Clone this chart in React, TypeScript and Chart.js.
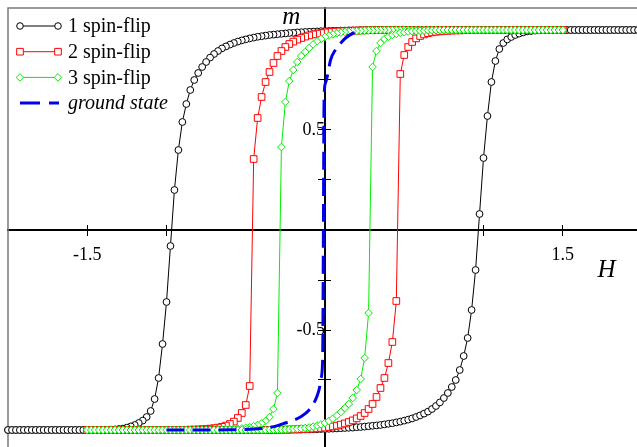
import React, { useEffect, useRef } from "react";
import { Chart, registerables } from "chart.js";

Chart.register(...registerables);

// Field sweep grid: H = start + k * step
const H_STEP = 0.025;
const ONE_FLIP_START = -2;
const MULTI_FLIP_START = -1.5;

// 1 spin-flip: magnetisation on the descending and ascending branches (H increasing)
const oneFlipDown = [
  -1, -1, -1, -1, -1, -1, -1, -1, -1, -1,
  -1, -1, -1, -1, -1, -1, -1, -1, -1, -1,
  -1, -1, -1, -1, -0.999, -0.999, -0.998, -0.997, -0.995, -0.993,
  -0.988, -0.982, -0.975, -0.965, -0.953, -0.935, -0.905, -0.845, -0.74, -0.57,
  -0.36, -0.08, 0.2, 0.4, 0.54, 0.63, 0.7, 0.75, 0.785, 0.815,
  0.84, 0.862, 0.88, 0.895, 0.908, 0.918, 0.927, 0.935, 0.942, 0.948,
  0.953, 0.958, 0.962, 0.966, 0.969, 0.972, 0.975, 0.977, 0.979, 0.981,
  0.983, 0.985, 0.986, 0.988, 0.989, 0.99, 0.991, 0.992, 0.993, 0.994,
  0.995, 0.995, 0.996, 0.996, 0.997, 0.997, 0.998, 0.998, 0.998, 0.999,
  0.999, 0.999, 0.999, 1, 1, 1, 1, 1, 1, 1,
  1, 1, 1, 1, 1, 1, 1, 1, 1, 1,
  1, 1, 1, 1, 1, 1, 1, 1, 1, 1,
  1, 1, 1, 1, 1, 1, 1, 1, 1, 1,
  1, 1, 1, 1, 1, 1, 1, 1, 1, 1,
  1, 1, 1, 1, 1, 1, 1, 1, 1, 1,
  1, 1, 1, 1, 1, 1, 1, 1, 1, 1,
  1,
];
const oneFlipUp = [
  -1, -1, -1, -1, -1, -1, -1, -1, -1, -1,
  -1, -1, -1, -1, -1, -1, -1, -1, -1, -1,
  -1, -1, -1, -1, -1, -1, -1, -1, -1, -1,
  -1, -1, -1, -1, -1, -1, -1, -1, -1, -1,
  -1, -1, -1, -1, -1, -1, -1, -1, -1, -1,
  -1, -1, -1, -1, -1, -1, -1, -1, -1, -1,
  -1, -1, -1, -1, -1, -1, -1, -1, -0.999, -0.999,
  -0.999, -0.999, -0.998, -0.998, -0.998, -0.997, -0.997, -0.996, -0.996, -0.995,
  -0.995, -0.994, -0.993, -0.992, -0.991, -0.99, -0.989, -0.988, -0.986, -0.985,
  -0.983, -0.981, -0.979, -0.977, -0.975, -0.972, -0.969, -0.966, -0.962, -0.958,
  -0.953, -0.948, -0.942, -0.935, -0.927, -0.918, -0.908, -0.895, -0.88, -0.862,
  -0.84, -0.815, -0.785, -0.75, -0.7, -0.63, -0.54, -0.4, -0.2, 0.08,
  0.36, 0.57, 0.74, 0.845, 0.905, 0.935, 0.953, 0.965, 0.975, 0.982,
  0.988, 0.993, 0.995, 0.997, 0.998, 0.999, 0.999, 1, 1, 1,
  1, 1, 1, 1, 1, 1, 1, 1, 1, 1,
  1, 1, 1, 1, 1, 1, 1, 1, 1, 1,
  1,
];

// 2 spin-flip
const twoFlipDown = [
  -1, -1, -1, -1, -1, -1, -1, -1, -1, -1,
  -1, -1, -1, -1, -1, -1, -1, -1, -1, -1,
  -1, -1, -1, -1, -0.999, -0.999, -0.998, -0.998, -0.997, -0.996,
  -0.995, -0.993, -0.991, -0.988, -0.984, -0.978, -0.97, -0.958, -0.94, -0.915,
  -0.875, -0.78, 0.355, 0.56, 0.665, 0.74, 0.79, 0.835, 0.87, 0.895,
  0.915, 0.93, 0.942, 0.952, 0.96, 0.967, 0.973, 0.978, 0.982, 0.985,
  0.988, 0.99, 0.992, 0.993, 0.994, 0.995, 0.996, 0.997, 0.997, 0.998,
  0.998, 0.999, 0.999, 1, 1, 1, 1, 1, 1, 1,
  1, 1, 1, 1, 1, 1, 1, 1, 1, 1,
  1, 1, 1, 1, 1, 1, 1, 1, 1, 1,
  1, 1, 1, 1, 1, 1, 1, 1, 1, 1,
  1, 1, 1, 1, 1, 1, 1, 1, 1, 1,
  1,
];
const twoFlipUp = [
  -1, -1, -1, -1, -1, -1, -1, -1, -1, -1,
  -1, -1, -1, -1, -1, -1, -1, -1, -1, -1,
  -1, -1, -1, -1, -1, -1, -1, -1, -1, -1,
  -1, -1, -1, -1, -1, -1, -1, -1, -1, -1,
  -1, -1, -1, -1, -1, -1, -1, -1, -0.999, -0.999,
  -0.998, -0.998, -0.997, -0.997, -0.996, -0.995, -0.994, -0.993, -0.992, -0.99,
  -0.988, -0.985, -0.982, -0.978, -0.973, -0.967, -0.96, -0.952, -0.942, -0.93,
  -0.915, -0.895, -0.87, -0.835, -0.79, -0.74, -0.665, -0.56, -0.355, 0.78,
  0.875, 0.915, 0.94, 0.958, 0.97, 0.978, 0.984, 0.988, 0.991, 0.993,
  0.995, 0.996, 0.997, 0.998, 0.998, 0.999, 0.999, 1, 1, 1,
  1, 1, 1, 1, 1, 1, 1, 1, 1, 1,
  1, 1, 1, 1, 1, 1, 1, 1, 1, 1,
  1,
];

// 3 spin-flip
const threeFlipDown = [
  -1, -1, -1, -1, -1, -1, -1, -1, -1, -1,
  -1, -1, -1, -1, -1, -1, -1, -1, -1, -1,
  -1, -1, -1, -1, -1, -1, -1, -1, -1, -1,
  -1, -0.999, -0.999, -0.998, -0.998, -0.997, -0.996, -0.995, -0.994, -0.992,
  -0.989, -0.986, -0.981, -0.975, -0.967, -0.955, -0.935, -0.895, -0.815, 0.415,
  0.64, 0.745, 0.8, 0.84, 0.87, 0.89, 0.91, 0.928, 0.943, 0.955,
  0.965, 0.972, 0.978, 0.983, 0.987, 0.99, 0.992, 0.994, 0.995, 0.996,
  0.997, 0.998, 0.998, 0.999, 0.999, 1, 1, 1, 1, 1,
  1, 1, 1, 1, 1, 1, 1, 1, 1, 1,
  1, 1, 1, 1, 1, 1, 1, 1, 1, 1,
  1, 1, 1, 1, 1, 1, 1, 1, 1, 1,
  1, 1, 1, 1, 1, 1, 1, 1, 1, 1,
  1,
];
const threeFlipUp = [
  -1, -1, -1, -1, -1, -1, -1, -1, -1, -1,
  -1, -1, -1, -1, -1, -1, -1, -1, -1, -1,
  -1, -1, -1, -1, -1, -1, -1, -1, -1, -1,
  -1, -1, -1, -1, -1, -1, -1, -1, -1, -1,
  -1, -1, -1, -1, -1, -1, -0.999, -0.999, -0.998, -0.998,
  -0.997, -0.996, -0.995, -0.994, -0.992, -0.99, -0.987, -0.983, -0.978, -0.972,
  -0.965, -0.955, -0.943, -0.928, -0.91, -0.89, -0.87, -0.84, -0.8, -0.745,
  -0.64, -0.415, 0.815, 0.895, 0.935, 0.955, 0.967, 0.975, 0.981, 0.986,
  0.989, 0.992, 0.994, 0.995, 0.996, 0.997, 0.998, 0.998, 0.999, 0.999,
  1, 1, 1, 1, 1, 1, 1, 1, 1, 1,
  1, 1, 1, 1, 1, 1, 1, 1, 1, 1,
  1, 1, 1, 1, 1, 1, 1, 1, 1, 1,
  1,
];

// Ground state curve
const groundH = [
  -1, -0.8, -0.6, -0.5, -0.4, -0.35, -0.3, -0.25, -0.2, -0.15, -0.1, -0.07, -0.05,
  -0.035, -0.025, -0.015, -0.01, -0.006, 0.003, 0.015, 0.035, 0.065, 0.1, 0.13, 0.18, 0.22,
];
const groundM = [
  -1, -1, -0.999, -0.997, -0.992, -0.987, -0.978, -0.965, -0.952, -0.933, -0.9, -0.865, -0.83,
  -0.79, -0.74, -0.65, 0, 0.65, 0.735, 0.77, 0.85, 0.9, 0.935, 0.96, 0.985, 0.99,
];

const seriesNames = ["1 spin-flip", "2 spin-flip", "3 spin-flip", "ground state"];
const xTickValues = [-1.5, -1, 1, 1.5];
const xLabelValues = [-1.5, 1.5];
const yTickValues = [-0.75, -0.5, -0.25, 0.25, 0.5, 0.75];
const yLabelValues = [-0.5, 0.5];

const SERIF = '"Liberation Serif", "Times New Roman", serif';
const BLACK = "#000000";
const RED = "#ff0000";
const GREEN = "#00ee00";
const BLUE = "#0000ee";

type Pt = { x: number; y: number };

// Descending branch (high field to low field), then ascending branch back up.
function loopPoints(start: number, down: number[], up: number[]): Pt[] {
  const pts: Pt[] = [];
  for (let k = down.length - 1; k >= 0; k--) {
    pts.push({ x: +(start + k * H_STEP).toFixed(4), y: down[k] });
  }
  for (let k = 0; k < up.length; k++) {
    pts.push({ x: +(start + k * H_STEP).toFixed(4), y: up[k] });
  }
  return pts;
}

function drawMarker(ctx: CanvasRenderingContext2D, style: string, x: number, y: number, r: number, color: string) {
  ctx.save();
  ctx.lineWidth = 1;
  ctx.strokeStyle = color;
  ctx.fillStyle = "#ffffff";
  ctx.beginPath();
  if (style === "circle") {
    ctx.arc(x, y, r, 0, Math.PI * 2);
  } else if (style === "rect") {
    const s = r * Math.SQRT1_2;
    ctx.rect(x - s, y - s, 2 * s, 2 * s);
  } else {
    ctx.moveTo(x, y - r);
    ctx.lineTo(x + r, y);
    ctx.lineTo(x, y + r);
    ctx.lineTo(x - r, y);
    ctx.closePath();
  }
  ctx.fill();
  ctx.stroke();
  ctx.restore();
}

const legendStyles = [
  { color: BLACK, marker: "circle", radius: 3.3 },
  { color: RED, marker: "rect", radius: 4.7 },
  { color: GREEN, marker: "rectRot", radius: 3.8 },
  { color: BLUE, marker: "", radius: 0 },
];

const framePlugin = {
  id: "frame",
  beforeDatasetsDraw(chart: any) {
    const { ctx, chartArea } = chart;
    ctx.save();
    ctx.strokeStyle = "#7a7a7a";
    ctx.lineWidth = 1.5;
    ctx.strokeRect(chartArea.left, chartArea.top, chartArea.right - chartArea.left, chartArea.bottom - chartArea.top);
    ctx.restore();
  },
};

const annotationPlugin = {
  id: "annotations",
  afterDraw(chart: any) {
    const { ctx, chartArea } = chart;
    const xs = chart.scales.x;
    const ys = chart.scales.y;
    ctx.save();
    // axis names
    ctx.fillStyle = BLACK;
    ctx.font = `italic 25px ${SERIF}`;
    ctx.textAlign = "left";
    ctx.textBaseline = "alphabetic";
    ctx.fillText("H", xs.getPixelForValue(1.72), ys.getPixelForValue(0) + 47);
    ctx.fillText("m", xs.getPixelForValue(-0.27), chartArea.top + 16);

    // legend
    const rowTop = 26;
    const rowGap = 25.7;
    const x0 = 20;
    const x1 = 58;
    seriesNames.forEach((name, i) => {
      const y = rowTop + i * rowGap;
      const st = legendStyles[i];
      ctx.save();
      ctx.strokeStyle = st.color;
      if (st.marker) {
        ctx.lineWidth = 1;
        ctx.beginPath();
        ctx.moveTo(x0, y);
        ctx.lineTo(x1, y);
        ctx.stroke();
        drawMarker(ctx, st.marker, x0, y, st.radius, st.color);
        drawMarker(ctx, st.marker, x1, y, st.radius, st.color);
      } else {
        ctx.lineWidth = 3;
        ctx.setLineDash([20, 9]);
        ctx.beginPath();
        ctx.moveTo(x0, y);
        ctx.lineTo(x1 + 1, y);
        ctx.stroke();
      }
      ctx.restore();
      ctx.fillStyle = BLACK;
      ctx.font = `${i === 3 ? "italic " : ""}20px ${SERIF}`;
      ctx.textAlign = "left";
      ctx.textBaseline = "middle";
      ctx.fillText(name, 68, y + 1);
    });
    ctx.restore();
  },
};

function axisOptions(axis: "x" | "y", tickLength: number, withLabels: boolean) {
  const isX = axis === "x";
  const ticksList = isX ? xTickValues : yTickValues;
  const labelList = isX ? xLabelValues : yLabelValues;
  return {
    type: "linear" as const,
    axis,
    min: isX ? -2 : -1.1,
    max: isX ? 2 : 1.11,
    position: isX ? { y: 0 } : { x: 0 },
    afterBuildTicks: (scale: any) => {
      scale.ticks = ticksList.map((v) => ({ value: v }));
    },
    // the axes cross inside the plot, so they claim no outer margin
    afterFit: (scale: any) => {
      scale.paddingTop = 0;
      scale.paddingBottom = 0;
      scale.paddingLeft = 0;
      scale.paddingRight = 0;
    },
    border: { display: withLabels, color: BLACK, width: 2 },
    grid: {
      display: true,
      drawOnChartArea: false,
      drawTicks: true,
      tickLength,
      tickColor: BLACK,
      tickWidth: 1,
    },
    ticks: {
      display: withLabels,
      autoSkip: false,
      maxRotation: 0,
      color: BLACK,
      padding: isX ? 9 : 5,
      font: { family: SERIF, size: 18 },
      callback: (v: any) => (labelList.includes(Number(v)) ? String(v) : ""),
    },
  };
}

export default function App() {
  const canvasRef = useRef<HTMLCanvasElement>(null);

  useEffect(() => {
    if (!canvasRef.current) return;
    const chart = new Chart(canvasRef.current, {
      type: "line",
      data: {
        datasets: [
          {
            label: seriesNames[3],
            data: groundH.map((h, i) => ({ x: h, y: groundM[i] })),
            borderColor: BLUE,
            borderWidth: 3,
            borderDash: [18, 8],
            pointRadius: 0,
            cubicInterpolationMode: "monotone",
            fill: false,
            order: 1,
          },
          {
            label: seriesNames[2],
            data: loopPoints(MULTI_FLIP_START, threeFlipDown, threeFlipUp),
            borderColor: GREEN,
            borderWidth: 1,
            pointStyle: "rectRot",
            pointRadius: 3.8,
            pointBorderWidth: 1,
            pointBorderColor: GREEN,
            pointBackgroundColor: "#ffffff",
            tension: 0,
            fill: false,
            order: 2,
          },
          {
            label: seriesNames[1],
            data: loopPoints(MULTI_FLIP_START, twoFlipDown, twoFlipUp),
            borderColor: RED,
            borderWidth: 1,
            pointStyle: "rect",
            pointRadius: 4.7,
            pointBorderWidth: 1,
            pointBorderColor: RED,
            pointBackgroundColor: "#ffffff",
            tension: 0,
            fill: false,
            order: 3,
          },
          {
            label: seriesNames[0],
            data: loopPoints(ONE_FLIP_START, oneFlipDown, oneFlipUp),
            borderColor: BLACK,
            borderWidth: 1,
            pointStyle: "circle",
            pointRadius: 3.4,
            pointBorderWidth: 1,
            pointBorderColor: BLACK,
            pointBackgroundColor: "#ffffff",
            tension: 0,
            fill: false,
            order: 4,
          },
        ] as any,
      },
      options: {
        animation: false,
        responsive: false,
        devicePixelRatio: 1,
        parsing: false,
        clip: 8,
        layout: { padding: { left: 8, top: 8, right: 18, bottom: 10 } },
        plugins: { legend: { display: false }, tooltip: { enabled: false } },
        scales: {
          x: axisOptions("x", 5, true),
          x2: axisOptions("x", -5, false),
          y: axisOptions("y", 6, true),
          y2: axisOptions("y", -6, false),
        } as any,
      } as any,
      plugins: [framePlugin, annotationPlugin],
    });
    return () => chart.destroy();
  }, []);

  return (
    <div
      style={{
        position: "fixed",
        left: 0,
        top: 0,
        width: 637,
        height: 447,
        overflow: "hidden",
        background: "#ffffff",
      }}
    >
      <canvas ref={canvasRef} width={660} height={460} style={{ display: "block", width: 660, height: 460 }} />
    </div>
  );
}
